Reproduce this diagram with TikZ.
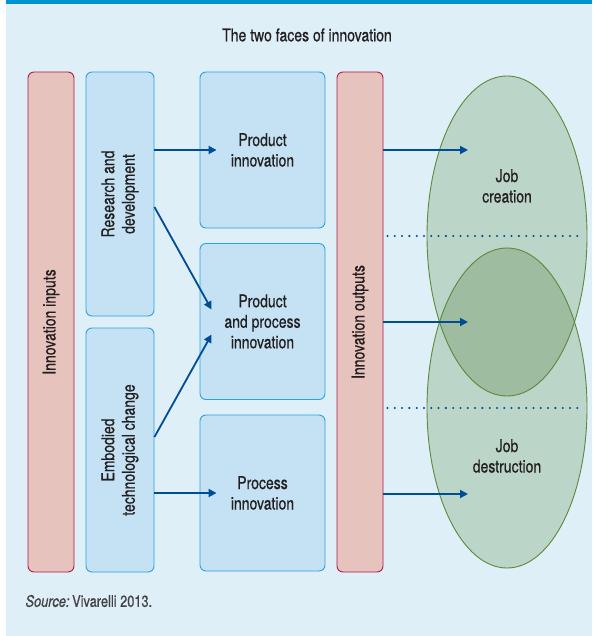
\documentclass[tikz,border=0pt]{standalone}
\usepackage{fontspec}
\setmainfont{TeX Gyre Heros}[FakeStretch=0.8, FakeBold=0.6]
\usetikzlibrary{arrows.meta,positioning,shapes.geometric}
\definecolor{panelbg}{HTML}{DEEFF8}
\definecolor{barblue}{HTML}{0093D0}
\definecolor{boxpink}{HTML}{E7C3BD}
\definecolor{boxred}{HTML}{B01A4C}
\definecolor{boxblue}{HTML}{C4E2F4}
\definecolor{boxline}{HTML}{2AA3DC}
\definecolor{ellfill}{HTML}{BCD5C9}
\definecolor{ellover}{HTML}{9EBCA0}
\definecolor{ellline}{HTML}{5A8A3A}
\definecolor{arrowblue}{HTML}{004C97}
\definecolor{textdark}{HTML}{231F20}

\begin{document}
\begin{tikzpicture}[
    x=1pt, y=-1pt,
    lbl/.style={font=\fontsize{17.5}{20.5}\selectfont, text=textdark, align=center},
    redbar/.style={rectangle, rounded corners=6pt, draw=boxred, line width=0.9pt, fill=boxpink,
                   rotate=90, minimum width=500pt, minimum height=46pt, lbl},
    srcbox/.style={rectangle, rounded corners=6pt, draw=boxline, line width=0.9pt, fill=boxblue,
                   rotate=90, minimum width=244pt, minimum height=68pt, lbl},
    outbox/.style={rectangle, rounded corners=6pt, draw=boxline, line width=0.9pt, fill=boxblue,
                   minimum width=125pt, minimum height=156pt, lbl},
    jobs/.style={ellipse, fill=ellfill, minimum width=160pt, minimum height=320pt, inner sep=0pt},
    arrow/.style={-{Triangle[length=8pt, width=8pt]}, line width=1.8pt, arrowblue},
    sep/.style={arrowblue, line width=2.3pt, line cap=round, dash pattern=on 0pt off 7.3pt}
  ]
  % Panel
  \useasboundingbox (0,0) rectangle (592,636);
  \fill[panelbg] (6,0) rectangle (592,636);
  \fill[barblue] (6,0) rectangle (592,4.5);
  \node[lbl] (title) at (307,35) {The two faces of innovation};

  % Inputs
  \node[redbar] (inputs) at (51,322) {Innovation inputs};
  \node[srcbox] (rd) at (120,194) {Research and\\development};
  \node[srcbox] (emb) at (120,450) {Embodied\\technological change};

  % Innovations
  \node[outbox] (pi) at (262.5,150) {Product\\innovation};
  \node[outbox] (ppi) at (262.5,321.5) {Product\\and process\\innovation};
  \node[outbox] (proc) at (262.5,493) {Process\\innovation};

  % Outputs
  \node[redbar] (outputs) at (360,322) {Innovation outputs};

  % Jobs
  \node[jobs] (create) at (507,236) {};
  \node[jobs] (destroy) at (507,408) {};
  \begin{scope}
    \clip (create.center) ellipse [x radius=80pt, y radius=160pt];
    \fill[ellover] (destroy.center) ellipse [x radius=80pt, y radius=160pt];
  \end{scope}
  \draw[ellline, line width=0.9pt] (create.center) ellipse [x radius=80pt, y radius=160pt];
  \draw[ellline, line width=0.9pt] (destroy.center) ellipse [x radius=80pt, y radius=160pt];
  \node[lbl] (createlbl) at (507,186) {Job\\creation};
  \node[lbl] (destroylbl) at (507,456) {Job\\destruction};

  \coordinate (c1) at (468,150);
  \coordinate (c2) at (468,322);
  \coordinate (c3) at (468,494);

  % Connectors
  \draw[arrow] (rd.south |- pi.west) -- ([xshift=17pt]pi.west);
  \draw[arrow] ([yshift=-13pt]rd.south) -- ([xshift=12pt, yshift=12pt]ppi.west);
  \draw[arrow] ([yshift=13pt]emb.south) -- ([xshift=12pt, yshift=-13pt]ppi.west);
  \draw[arrow] (emb.south |- proc.west) -- ([xshift=17pt]proc.west);

  \draw[arrow] (outputs.south |- c1) -- (c1);
  \draw[arrow] (outputs.south |- c2) -- (c2);
  \draw[arrow] (outputs.south |- c3) -- (c3);

  \draw[sep] ([xshift=4pt]outputs.south |- create.center) -- ([xshift=-4pt]create.east);
  \draw[sep] ([xshift=4pt]outputs.south |- destroy.center) -- ([xshift=-4pt]destroy.east);

  % Source
  \node[anchor=west, font=\fontsize{16}{19}\selectfont, text=textdark!85] (src) at (22,601)
    {\textit{Source:}\,Vivarelli 2013.};
\end{tikzpicture}
\end{document}
